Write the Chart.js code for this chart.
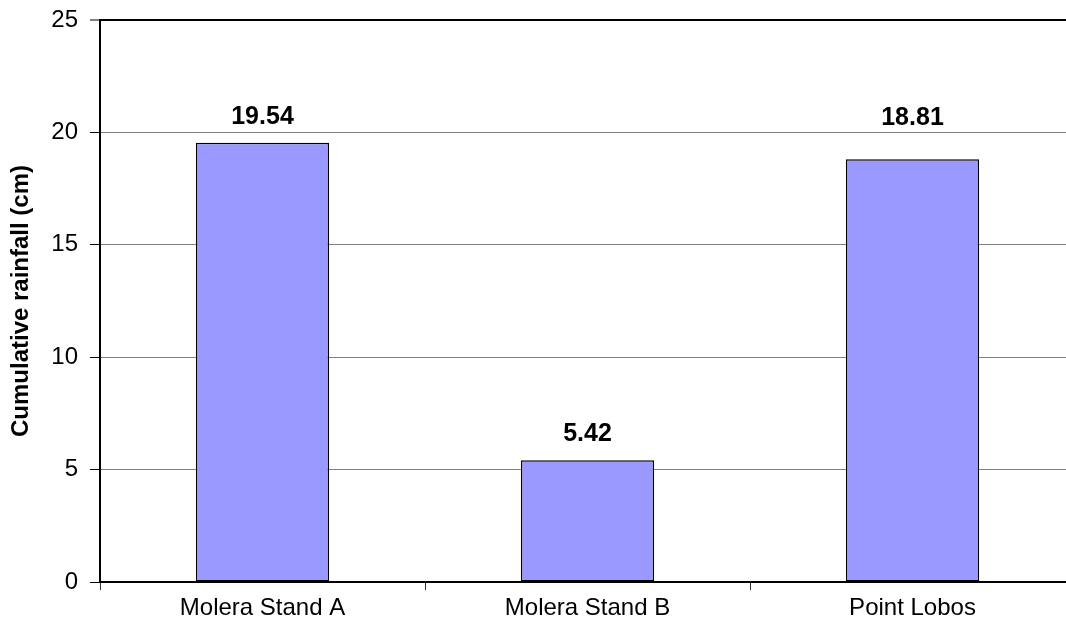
<!DOCTYPE html>
<html>
<head>
<meta charset="utf-8">
<script src="https://cdn.jsdelivr.net/npm/chart.js@4.4.1/dist/chart.umd.min.js"></script>
<style>
  html, body { margin: 0; padding: 0; background: #ffffff; overflow: hidden; }
  #wrap { position: relative; width: 1080px; height: 635px; }
</style>
</head>
<body>
<div id="wrap"><canvas id="c" width="1080" height="635"></canvas></div>
<script>
// Cumulative rainfall per site
const sites = ['Molera Stand A', 'Molera Stand B', 'Point Lobos'];
const rainfallCm = [19.54, 5.42, 18.81];
const yTicks = [0, 5, 10, 15, 20, 25];

const FONT = "'Liberation Sans', Arial, Helvetica, sans-serif";

// Writes each bar's value above it
const valueLabels = {
  id: 'valueLabels',
  afterDatasetsDraw(chart, args, opts) {
    const ctx = chart.ctx;
    const meta = chart.getDatasetMeta(0);
    const data = chart.data.datasets[0].data;
    ctx.save();
    ctx.font = 'bold 25px ' + FONT;
    ctx.fillStyle = '#000000';
    ctx.textAlign = 'center';
    ctx.textBaseline = 'alphabetic';
    meta.data.forEach((bar, i) => {
      const gap = opts.gaps[i];
      ctx.fillText(data[i].toFixed(2), bar.x, bar.y - gap);
    });
    ctx.restore();
  }
};

new Chart(document.getElementById('c'), {
  type: 'bar',
  data: {
    labels: sites,
    datasets: [{
      data: rainfallCm,
      backgroundColor: '#9999ff',
      borderColor: '#000000',
      borderWidth: 1.5,
      borderSkipped: false,
      categoryPercentage: 1.0,
      barPercentage: 0.41
    }]
  },
  options: {
    responsive: false,
    animation: false,
    events: [],
    layout: { padding: { top: 20, right: 5, left: 0, bottom: 0 } },
    plugins: {
      legend: { display: false },
      tooltip: { enabled: false },
      valueLabels: { gaps: [19, 19, 34] }
    },
    scales: {
      x: {
        type: 'category',
        offset: true,
        grid: {
          offset: true,
          drawOnChartArea: false,
          drawTicks: true,
          tickLength: 8,
          tickColor: '#333333',
          tickWidth: 1
        },
        border: { display: true, color: '#000000', width: 2 },
        ticks: {
          color: '#000000',
          font: { family: FONT, size: 24 },
          padding: 4,
          maxRotation: 0
        },
        afterFit(scale) { scale.height = 53; }
      },
      y: {
        min: 0,
        max: 25,
        afterBuildTicks(scale) { scale.ticks = yTicks.map(v => ({ value: v })); },
        grid: {
          color: (c) => (c.tick && c.tick.value === 25) ? '#000000' : '#808080',
          lineWidth: (c) => (c.tick && c.tick.value === 25) ? 2 : 1,
          tickLength: 10,
          tickColor: '#000000',
          tickWidth: 1
        },
        border: { display: true, color: '#000000', width: 2 },
        ticks: {
          color: '#000000',
          font: { family: FONT, size: 24 },
          padding: 12
        },
        title: {
          display: true,
          text: 'Cumulative rainfall (cm)',
          color: '#000000',
          font: { family: FONT, size: 24, weight: 'bold' },
          padding: { top: 7, bottom: 0 }
        },
        afterFit(scale) {
          scale.width = 100;
          scale.paddingTop = 0;
          scale.paddingBottom = 0;
        }
      }
    }
  },
  plugins: [valueLabels]
});
</script>
</body>
</html>
